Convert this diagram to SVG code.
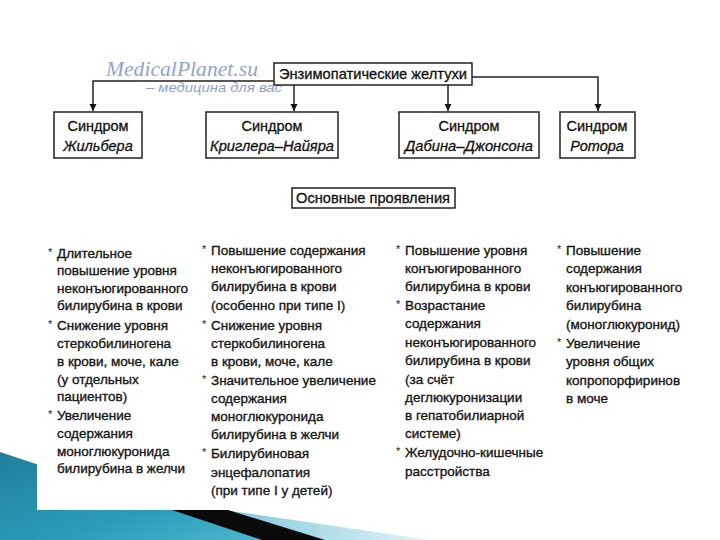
<svg xmlns="http://www.w3.org/2000/svg" width="720" height="540" viewBox="0 0 720 540">
<defs>
<style>
.box{fill:#fff;stroke:#222;stroke-width:1.5}
.t{font-family:"Liberation Sans",Arial,sans-serif;font-size:14.5px;fill:#111;stroke:#111;stroke-width:0.3}
.ti{font-family:"Liberation Sans",Arial,sans-serif;font-size:14.5px;font-style:italic;fill:#111;stroke:#111;stroke-width:0.3}
.b{font-family:"Liberation Sans",Arial,sans-serif;font-size:13.5px;fill:#151515;stroke:#151515;stroke-width:0.35}
.bul{font-family:"Liberation Sans",Arial,sans-serif;font-size:11px;fill:#151515}
.ln{fill:none;stroke:#222;stroke-width:1.5}
</style>
<marker id="ah" viewBox="0 0 10 10" refX="10" refY="5" markerWidth="5" markerHeight="5" orient="auto" markerUnits="strokeWidth">
<path d="M0,0 L10,5 L0,10 Z" fill="#111"/>
</marker>
<linearGradient id="teal" x1="0" y1="0" x2="1" y2="1">
<stop offset="0" stop-color="#1f7f9a"/>
<stop offset="0.6" stop-color="#2b9bb8"/>
<stop offset="1" stop-color="#4cb6cf"/>
</linearGradient>
<linearGradient id="lb" x1="0" y1="0" x2="1" y2="0">
<stop offset="0" stop-color="#7fc8dc"/>
<stop offset="1" stop-color="#e6f4f8"/>
</linearGradient>
</defs>
<rect width="720" height="540" fill="#fff"/>
<g id="decoration">
<polygon points="0,452 175,510 265,540 0,540" fill="url(#teal)"/>
<polygon points="225,510 430,540 320,540" fill="url(#lb)"/>
<polygon points="172,510 228,510 325,540 262,540" fill="#0a0a0a"/>
<rect x="37" y="45" width="665" height="465" fill="#fff"/>
</g>
<g id="connectors">
<polyline class="ln" points="275,81 93,81 93,111" marker-end="url(#ah)"/>
<polyline class="ln" points="471,77 598,77 598,111" marker-end="url(#ah)"/>
<line class="ln" x1="294" y1="85" x2="294" y2="111" marker-end="url(#ah)"/>
<line class="ln" x1="448" y1="85" x2="448" y2="111" marker-end="url(#ah)"/>
</g>
<g id="watermark" opacity="0.85">
<text x="106" y="76" font-family="'Liberation Serif','Times New Roman',serif" font-style="italic" font-size="21" fill="#8093c8" textLength="152" lengthAdjust="spacingAndGlyphs">MedicalPlanet.su</text>
<text x="146" y="92" font-family="'Liberation Sans',Arial,sans-serif" font-style="italic" font-size="13" fill="#7d8fc4" textLength="136" lengthAdjust="spacingAndGlyphs">– медицина для вас</text>
</g>
<g id="root">
<rect class="box" x="274" y="63" width="198" height="22"/>
<text class="t" x="373" y="79" text-anchor="middle" textLength="188" lengthAdjust="spacingAndGlyphs">Энзимопатические желтухи</text>
</g>
<g id="gilbert">
<rect class="box" x="54" y="112" width="88" height="46"/>
<text class="t" x="98" y="131" text-anchor="middle">Синдром</text>
<text class="ti" x="98" y="151" text-anchor="middle">Жильбера</text>
</g>
<g id="crigler">
<rect class="box" x="206" y="112" width="132" height="46"/>
<text class="t" x="272" y="131" text-anchor="middle">Синдром</text>
<text class="ti" x="272" y="151" text-anchor="middle" textLength="124" lengthAdjust="spacingAndGlyphs">Криглера–Найяра</text>
</g>
<g id="dubin">
<rect class="box" x="399" y="112" width="140" height="46"/>
<text class="t" x="469" y="131" text-anchor="middle">Синдром</text>
<text class="ti" x="469" y="151" text-anchor="middle" textLength="128" lengthAdjust="spacingAndGlyphs">Дабина–Джонсона</text>
</g>
<g id="rotor">
<rect class="box" x="560" y="112" width="75" height="46"/>
<text class="t" x="597" y="131" text-anchor="middle">Синдром</text>
<text class="ti" x="597" y="151" text-anchor="middle">Ротора</text>
</g>
<g id="main-signs">
<rect class="box" x="292" y="188" width="163" height="20"/>
<text class="t" x="373" y="203" text-anchor="middle" textLength="154" lengthAdjust="spacingAndGlyphs">Основные проявления</text>
</g>
<g id="col-gilbert">
<text class="bul" x="48" y="256">*</text><text class="b" x="57" y="258">Длительное</text>
<text class="b" x="57" y="275">повышение уровня</text>
<text class="b" x="57" y="293">неконъюгированного</text>
<text class="b" x="57" y="310">билирубина в крови</text>
<text class="bul" x="48" y="328">*</text><text class="b" x="57" y="330">Снижение уровня</text>
<text class="b" x="57" y="348">стеркобилиногена</text>
<text class="b" x="57" y="366">в крови, моче, кале</text>
<text class="b" x="57" y="384">(у отдельных</text>
<text class="b" x="57" y="401">пациентов)</text>
<text class="bul" x="48" y="418">*</text><text class="b" x="57" y="420">Увеличение</text>
<text class="b" x="57" y="438">содержания</text>
<text class="b" x="57" y="456">моноглюкуронида</text>
<text class="b" x="57" y="473">билирубина в желчи</text>
</g>
<g id="col-crigler">
<text class="bul" x="202" y="253">*</text><text class="b" x="211" y="255">Повышение содержания</text>
<text class="b" x="211" y="273">неконъюгированного</text>
<text class="b" x="211" y="291">билирубина в крови</text>
<text class="b" x="211" y="310">(особенно при типе I)</text>
<text class="bul" x="202" y="328">*</text><text class="b" x="211" y="330">Снижение уровня</text>
<text class="b" x="211" y="348">стеркобилиногена</text>
<text class="b" x="211" y="366">в крови, моче, кале</text>
<text class="bul" x="202" y="383">*</text><text class="b" x="211" y="385">Значительное увеличение</text>
<text class="b" x="211" y="403">содержания</text>
<text class="b" x="211" y="421">моноглюкуронида</text>
<text class="b" x="211" y="439">билирубина в желчи</text>
<text class="bul" x="202" y="456">*</text><text class="b" x="211" y="458">Билирубиновая</text>
<text class="b" x="211" y="477">энцефалопатия</text>
<text class="b" x="211" y="495">(при типе I у детей)</text>
</g>
<g id="col-dubin">
<text class="bul" x="396" y="253">*</text><text class="b" x="405" y="255">Повышение уровня</text>
<text class="b" x="405" y="273">конъюгированного</text>
<text class="b" x="405" y="291">билирубина в крови</text>
<text class="bul" x="396" y="308">*</text><text class="b" x="405" y="310">Возрастание</text>
<text class="b" x="405" y="328">содержания</text>
<text class="b" x="405" y="347">неконъюгированного</text>
<text class="b" x="405" y="365">билирубина в крови</text>
<text class="b" x="405" y="384">(за счёт</text>
<text class="b" x="405" y="402">деглюкуронизации</text>
<text class="b" x="405" y="420">в гепатобилиарной</text>
<text class="b" x="405" y="438">системе)</text>
<text class="bul" x="396" y="455">*</text><text class="b" x="405" y="457">Желудочно-кишечные</text>
<text class="b" x="405" y="476">расстройства</text>
</g>
<g id="col-rotor">
<text class="bul" x="557" y="253">*</text><text class="b" x="566" y="255">Повышение</text>
<text class="b" x="566" y="273">содержания</text>
<text class="b" x="566" y="292">конъюгированного</text>
<text class="b" x="566" y="310">билирубина</text>
<text class="b" x="566" y="329">(моноглюкуронид)</text>
<text class="bul" x="557" y="346">*</text><text class="b" x="566" y="348">Увеличение</text>
<text class="b" x="566" y="366">уровня общих</text>
<text class="b" x="566" y="385">копропорфиринов</text>
<text class="b" x="566" y="403">в моче</text>
</g>
</svg>
